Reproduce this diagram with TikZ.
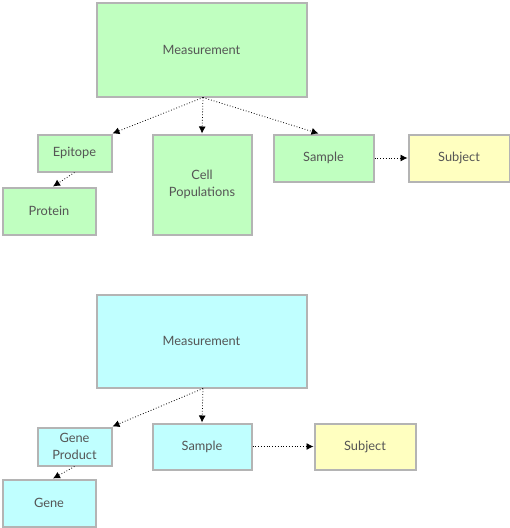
\documentclass[tikz,border=0pt]{standalone}
\usepackage{fontspec}
\setmainfont{Lato}
\usetikzlibrary{arrows.meta}
\definecolor{gfill}{HTML}{C0FFC0}
\definecolor{cfill}{HTML}{C0FFFF}
\definecolor{yfill}{HTML}{FFFFC0}
\definecolor{bord}{HTML}{B4B4B4}
\definecolor{txt}{HTML}{555555}
\tikzset{
  box/.style={draw=bord, line width=2pt, inner sep=0pt, align=center, text=txt,
    font=\fontsize{12.8}{17.5}\selectfont},
  gbox/.style={box, fill=gfill},
  cbox/.style={box, fill=cfill},
  ybox/.style={box, fill=yfill},
  conn/.style={dotted, line width=0.8pt, -{Latex[length=7pt,width=7pt]}},
}
\begin{document}
\begin{tikzpicture}[x=1pt,y=-1pt]
\useasboundingbox (0,0) rectangle (510,528);
% top
\node[gbox, minimum width=210pt, minimum height=94pt] (m1) at (201.5,49.5) {Measurement};
\node[gbox, minimum width=74pt, minimum height=37pt] (epi) at (74.5,153) {Epitope};
\node[gbox, minimum width=93pt, minimum height=47pt] (prot) at (49,211) {Protein};
\node[gbox, minimum width=99pt, minimum height=100pt] (cell) at (202,184.5) {Cell\\Populations};
\node[gbox, minimum width=100pt, minimum height=47pt] (s1) at (323.5,158) {Sample};
\node[ybox, minimum width=101pt, minimum height=47pt] (sub1) at (459,158) {Subject};
\coordinate (m1s) at ([xshift=1.5pt]m1.south);
\draw[conn] (m1s) -- (epi.north east);
\draw[conn] (m1s) -- (cell.north);
\draw[conn] (m1s) -- ([xshift=-5pt]s1.north);
\draw[conn] (epi.south) -- ([xshift=4pt]prot.north);
\draw[conn] (s1.east) -- (sub1.west);
% bottom
\node[cbox, minimum width=210pt, minimum height=93pt] (m2) at (201.5,341) {Measurement};
\node[cbox, minimum width=74pt, minimum height=38pt] (gp) at (74.5,446.5) {Gene\\Product};
\node[cbox, minimum width=93pt, minimum height=47pt] (gene) at (49,503) {Gene};
\node[cbox, minimum width=99pt, minimum height=46pt] (s2) at (202,446.5) {Sample};
\node[ybox, minimum width=101pt, minimum height=46pt] (sub2) at (365,446.5) {Subject};
\coordinate (m2s) at ([xshift=1.5pt]m2.south);
\draw[conn] (m2s) -- (gp.north east);
\draw[conn] (m2s) -- (s2.north);
\draw[conn] (gp.south) -- ([xshift=4pt]gene.north);
\draw[conn] (s2.east) -- (sub2.west);
\end{tikzpicture}
\end{document}
